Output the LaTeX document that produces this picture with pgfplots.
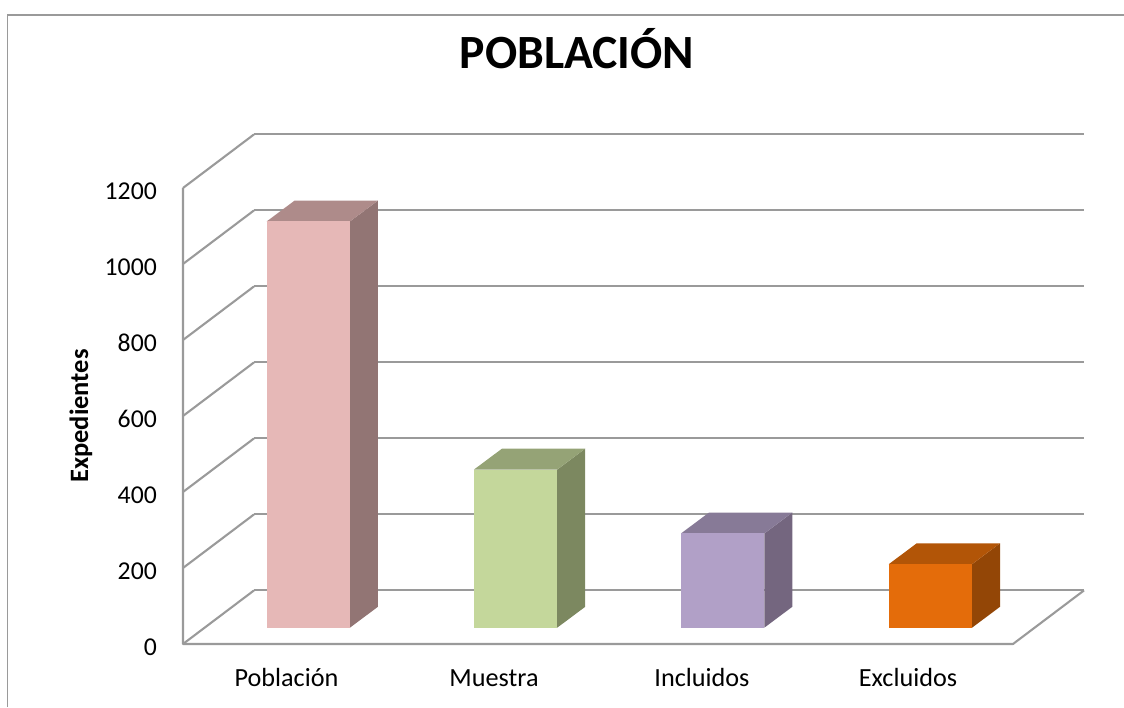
\documentclass[border=0pt]{standalone}
\usepackage{pgfplots}
\pgfplotsset{compat=1.18}
\usepackage{fontspec}
\setmainfont{Carlito}

\definecolor{gridgray}{HTML}{9A9A9A}
\definecolor{framegray}{HTML}{9A9A9A}
\definecolor{redF}{HTML}{E6B8B7}\definecolor{redT}{HTML}{AE8B8A}\definecolor{redS}{HTML}{927574}
\definecolor{grnF}{HTML}{C4D79B}\definecolor{grnT}{HTML}{95A376}\definecolor{grnS}{HTML}{7C8860}
\definecolor{purF}{HTML}{B1A0C7}\definecolor{purT}{HTML}{877A97}\definecolor{purS}{HTML}{74667F}
\definecolor{orgF}{HTML}{E46C0A}\definecolor{orgT}{HTML}{B25507}\definecolor{orgS}{HTML}{934606}

\pgfplotsset{
  shared/.style={
    scale only axis, width=901pt, height=509.5pt,
    at={(183pt,63pt)}, anchor=south west,
    xmin=183, xmax=1084, clip=false,
  },
  wall/.style={gridgray, line width=2.1pt, line join=round, forget plot},
  face/.style={fill=#1, draw=none, forget plot},
}

\begin{document}
\begin{tikzpicture}[x=1pt,y=1pt]
\path[use as bounding box] (0,0) rectangle (1124,707);
% outer chart frame
\draw[framegray, line width=1.9pt] (7.5,0) -- (7.5,692) -- (1124,692);

% walls, floor, scale and labels
\begin{axis}[
  shared,
  ymin=0, ymax=1340.8,
  axis x line*=bottom, axis y line*=left,
  axis line style={draw=none},
  major tick length=0pt,
  ytick={0,200,400,600,800,1000,1200},
  yticklabel={\pgfmathprintnumber[1000 sep={}]{\tick}},
  xtick={286.5,494,702,908},
  xticklabels={Población,Muestra,Incluidos,Excluidos},
  /pgf/number format/assume math mode=true,
  tick label style={font=\fontsize{25.7}{29}\selectfont, text=black},
  yticklabel style={inner sep=0pt, xshift=-26pt, yshift=-3pt},
  xticklabel style={inner sep=0pt, anchor=center, yshift=-34pt,
                    font=\fontsize{26.2}{30}\selectfont,
                    text height=17pt, text depth=0pt},
  title={POBLACIÓN},
  title style={at={(axis description cs:0.4373,1.1565)}, anchor=center,
               font=\fontsize{47.7}{54}\selectfont\bfseries, inner sep=0pt},
  ylabel={Expedientes},
  ylabel style={at={(axis description cs:-0.1132,0.4475)}, anchor=center,
                font=\fontsize{26.5}{30}\selectfont\bfseries, inner sep=0pt},
]
  % back wall lines
  \addplot[wall] coordinates {(254,141)(1084,141)};
  \addplot[wall] coordinates {(254,341)(1084,341)};
  \addplot[wall] coordinates {(254,541)(1084,541)};
  \addplot[wall] coordinates {(254,741)(1084,741)};
  \addplot[wall] coordinates {(254,941)(1084,941)};
  \addplot[wall] coordinates {(254,1141)(1084,1141)};
  \addplot[wall] coordinates {(254,1341)(1084,1341)};
  % side wall lines
  \addplot[wall] coordinates {(183,0)(254,141)};
  \addplot[wall] coordinates {(183,200)(254,341)};
  \addplot[wall] coordinates {(183,400)(254,541)};
  \addplot[wall] coordinates {(183,600)(254,741)};
  \addplot[wall] coordinates {(183,800)(254,941)};
  \addplot[wall] coordinates {(183,1000)(254,1141)};
  \addplot[wall] coordinates {(183,1200)(254,1341)};
  % front edge of the wall and of the floor
  \addplot[wall] coordinates {(183,1200)(183,0)(1013,0)(1084,141)};
\end{axis}

% bars: front face from the value, top and side faces for depth
\begin{axis}[
  shared,
  hide axis,
  ymin=-42.9, ymax=1297.9,
]
  % Población
  \addplot[face=redS] coordinates {(349.9,0)(377.9,55)(377.9,1124)(349.9,1069)} -- cycle;
  \addplot[face=redT] coordinates {(266.6,1069)(349.9,1069)(377.9,1124)(294.6,1124)} -- cycle;
  \addplot[ybar, bar width=83.3pt, bar shift=0pt, fill=redF, draw=none] coordinates {(308.25,1069)};
  % Muestra
  \addplot[face=grnS] coordinates {(557.2,0)(585.2,55)(585.2,471)(557.2,416)} -- cycle;
  \addplot[face=grnT] coordinates {(473.9,416)(557.2,416)(585.2,471)(501.9,471)} -- cycle;
  \addplot[ybar, bar width=83.3pt, bar shift=0pt, fill=grnF, draw=none] coordinates {(515.55,416)};
  % Incluidos
  \addplot[face=purS] coordinates {(764.3,0)(792.3,55)(792.3,303)(764.3,248)} -- cycle;
  \addplot[face=purT] coordinates {(681,248)(764.3,248)(792.3,303)(709,303)} -- cycle;
  \addplot[ybar, bar width=83.3pt, bar shift=0pt, fill=purF, draw=none] coordinates {(722.65,248)};
  % Excluidos
  \addplot[face=orgS] coordinates {(972,0)(1000,55)(1000,222)(972,167)} -- cycle;
  \addplot[face=orgT] coordinates {(888.7,167)(972,167)(1000,222)(916.7,222)} -- cycle;
  \addplot[ybar, bar width=83.3pt, bar shift=0pt, fill=orgF, draw=none] coordinates {(930.35,167)};
\end{axis}
\end{tikzpicture}
\end{document}
